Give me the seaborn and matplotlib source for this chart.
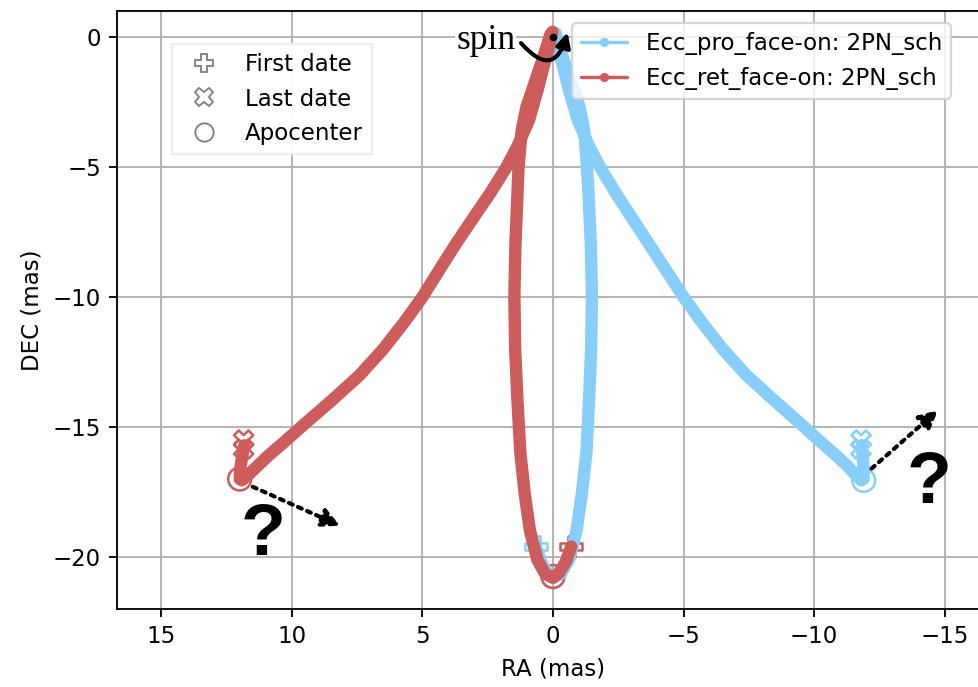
import numpy as np
import pandas as pd
import seaborn as sns
import matplotlib.pyplot as plt
from matplotlib.lines import Line2D
from matplotlib.patches import FancyArrowPatch

# orbit tracks, RA / DEC in mas
pro_ra = [0.65, 0.45, 0.22, 0.00, -0.30, -0.62, -0.90, -1.10, -1.28, -1.38, -1.46, -1.49,
          -1.45, -1.36, -1.30, -1.20, -1.02, -0.75, -0.38, -0.12, -0.10,
          -0.22, -0.40, -0.60, -0.95, -1.38, -1.80, -2.40, -3.05, -3.70, -4.35, -5.00,
          -5.72, -6.50, -7.40, -8.50, -9.62, -10.28, -10.85, -11.28, -11.60, -11.80,
          -11.90, -11.90, -11.85, -11.82]
pro_dec = [-19.60, -20.20, -20.60, -20.80, -20.65, -20.10, -19.00, -17.60, -16.00, -14.00,
           -12.00, -10.00, -8.00, -6.00, -5.00, -3.60, -2.70, -1.90, -0.80, 0.05, 0.15,
           -0.50, -1.20, -2.00, -3.20, -4.20, -5.00, -6.00, -7.00, -8.00, -9.00, -10.00,
           -11.00, -12.00, -13.00, -14.00, -15.00, -15.60, -16.10, -16.50, -16.85, -17.05,
           -17.00, -16.60, -16.00, -15.70]
ret_ra = [-0.70, -0.48, -0.24, 0.00, 0.30, 0.60, 0.88, 1.08, 1.25, 1.36, 1.45, 1.48,
          1.44, 1.36, 1.32, 1.20, 1.02, 0.75, 0.38, 0.10, 0.02,
          0.18, 0.38, 0.58, 0.92, 1.36, 1.78, 2.40, 3.08, 3.75, 4.38, 5.00,
          5.72, 6.50, 7.40, 8.50, 9.65, 10.32, 10.90, 11.32, 11.68, 11.92,
          12.00, 11.98, 11.88, 11.82]
ret_dec = [-19.60, -20.20, -20.60, -20.80, -20.65, -20.10, -19.00, -17.60, -16.00, -14.00,
           -12.00, -10.00, -8.00, -6.00, -5.00, -3.60, -2.70, -1.90, -0.80, 0.10, 0.20,
           -0.50, -1.20, -2.00, -3.20, -4.20, -5.00, -6.00, -7.00, -8.00, -9.00, -10.00,
           -11.00, -12.00, -13.00, -14.00, -15.00, -15.60, -16.10, -16.50, -16.85, -17.05,
           -17.00, -16.60, -16.00, -15.70]

labels = ["Ecc_pro_face-on: 2PN_sch", "Ecc_ret_face-on: 2PN_sch"]
colors = ["lightskyblue", "indianred"]

# special epochs
first_ra = [0.65, -0.70]
first_dec = [-19.60, -19.60]
last_pro_ra = [-11.80, -11.80]
last_pro_dec = [-15.50, -15.85]
last_ret_ra = [11.85, 11.85]
last_ret_dec = [-15.50, -15.85]
apo_pro_ra = [0.00, -11.90]
apo_pro_dec = [-20.75, -17.05]
apo_ret_ra = [0.00, 12.00]
apo_ret_dec = [-20.75, -17.00]
center = (0.0, 0.0)

sns.set_style("ticks", {"axes.grid": True, "grid.color": "#b0b0b0", "axes.edgecolor": "black",
                        "xtick.color": "black", "ytick.color": "black", "text.color": "black",
                        "axes.labelcolor": "black"})
plt.rcParams['font.family'] = ['DejaVu Sans']

df = pd.concat([
    pd.DataFrame({"RA": pro_ra, "DEC": pro_dec, "orbit": labels[0]}),
    pd.DataFrame({"RA": ret_ra, "DEC": ret_dec, "orbit": labels[1]}),
], ignore_index=True)

fig = plt.figure(figsize=(978 / 165, 687 / 165), dpi=165)
ax = fig.add_axes([117 / 978, 78 / 687, 872 / 978, 598 / 687])

# markers first so the tracks sit on top of them
for i, (c, lra, ldec, ara, adec) in enumerate([
        (colors[0], last_pro_ra, last_pro_dec, apo_pro_ra, apo_pro_dec),
        (colors[1], last_ret_ra, last_ret_dec, apo_ret_ra, apo_ret_dec)]):
    sns.scatterplot(x=[first_ra[i]], y=[first_dec[i]], marker="P", fc="none", ec=c,
                    s=90, linewidth=1.1, zorder=2, legend=False, ax=ax)
    sns.scatterplot(x=lra, y=ldec, marker="X", fc="none", ec=c,
                    s=70, linewidth=1.1, zorder=2, legend=False, ax=ax)
    sns.scatterplot(x=ara, y=adec, marker="o", fc="none", ec=c,
                    s=100, linewidth=1.1, zorder=2, legend=False, ax=ax)

sns.lineplot(data=df, x="RA", y="DEC", hue="orbit", palette=colors, units="orbit",
             estimator=None, sort=False, lw=5.4, legend=False, ax=ax, zorder=3,
             solid_capstyle="round", solid_joinstyle="round")

ax.plot(*center, "o", color="k", ms=2.3, zorder=5)

ax.set_xlim(16.7, -16.7)
ax.set_ylim(-22, 1)
ax.set_xticks([15, 10, 5, 0, -5, -10, -15])
ax.set_yticks([0, -5, -10, -15, -20])
ax.set_xlabel("RA (mas)")
ax.set_ylabel("DEC (mas)")
ax.tick_params(length=3.5, width=0.8)

# legends
line_h = [Line2D([], [], color=c, lw=1.5, marker="o", ms=3) for c in colors]
leg1 = ax.legend(line_h, labels, loc="upper left", bbox_to_anchor=(0.522, 0.98),
                 borderaxespad=0, framealpha=0.8)
ax.add_artist(leg1)
mark_h = [Line2D([], [], ls="none", marker=m, ms=8, mfc="none", mec="gray", mew=0.8)
          for m in ["P", "X", "o"]]
ax.legend(mark_h, ["First date", "Last date", "Apocenter"], loc="upper left",
          bbox_to_anchor=(0.063, 0.945), borderaxespad=0, framealpha=0.95,
          edgecolor="#eeeeee", fancybox=False)

# annotations
ax.text(1.45, -0.45, "spin", ha="right", va="baseline", fontsize=15.5,
        family="Liberation Serif", zorder=6,
        bbox=dict(fc="white", ec="none", pad=0.3))
ax.add_patch(FancyArrowPatch((1.34, -0.1), (-0.6, 0.35), connectionstyle="arc3,rad=1.0",
                             arrowstyle="-|>", mutation_scale=13, lw=1.8, color="k", zorder=6))
dots = dict(arrowstyle="-|>", linestyle=(0, (1, 1.4)), lw=1.8, color="k",
            mutation_scale=17, shrinkA=0, shrinkB=0)
ax.annotate("", xy=(8.15, -18.8), xytext=(11.5, -17.3), arrowprops=dots, zorder=6)
ax.annotate("", xy=(-14.75, -14.35), xytext=(-12.2, -16.6), arrowprops=dots, zorder=6)
qm = dict(fontsize=32, fontweight="bold", family="Liberation Sans", ha="center", va="center",
          color="black")
ax.text(11.1, -19.2, "?", **qm)
ax.text(-14.4, -17.2, "?", **qm)

fig.savefig("out.png", dpi=165)
